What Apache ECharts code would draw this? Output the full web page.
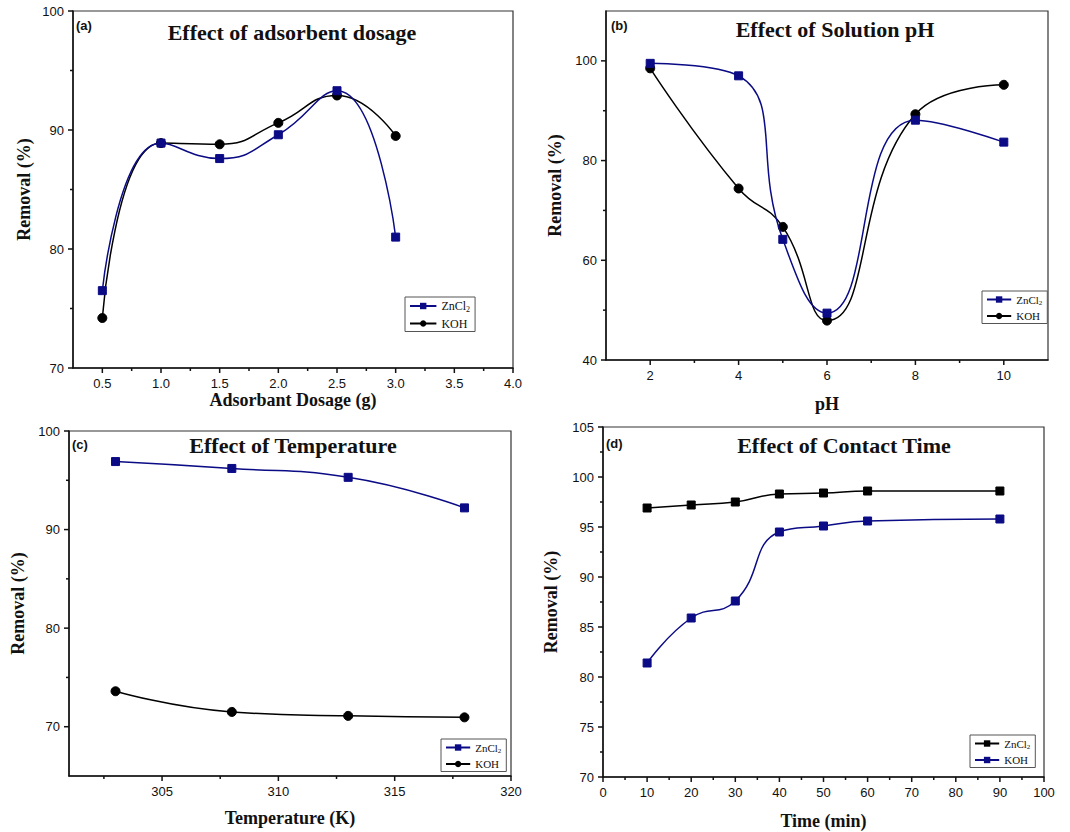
<!DOCTYPE html>
<html>
<head>
<meta charset="utf-8">
<title>Removal efficiency: dosage, pH, temperature and contact time</title>
<script src="https://cdn.jsdelivr.net/npm/echarts@6/dist/echarts.min.js"></script>
<style>
  html, body { margin: 0; padding: 0; background: #fff; }
  #chart { width: 1070px; height: 832px; }
</style>
</head>
<body>
<div id="chart"></div>
<script>
// ---- data -------------------------------------------------------------
// (a) adsorbent dosage (g)
const dosage        = [0.5, 1.0, 1.5, 2.0, 2.5, 3.0];
const dosageZnCl2   = [76.5, 88.9, 87.6, 89.6, 93.3, 81.0];
const dosageKOH     = [74.2, 88.9, 88.8, 90.6, 92.9, 89.5];
const dosageXTicks  = [0.5, 1.0, 1.5, 2.0, 2.5, 3.0, 3.5, 4.0];
const dosageXMinor  = [0.75, 1.25, 1.75, 2.25, 2.75, 3.25, 3.75];
const dosageYTicks  = [70, 80, 90, 100];
const dosageYMinor  = [75, 85, 95];

// (b) solution pH
const pH            = [2, 4, 5, 6, 8, 10];
const pHZnCl2       = [99.5, 97.0, 64.2, 49.4, 88.1, 83.7];
const pHKOH         = [98.5, 74.4, 66.7, 47.9, 89.3, 95.2];
const pHXTicks      = [2, 4, 6, 8, 10];
const pHXMinor      = [3, 5, 7, 9];
const pHYTicks      = [40, 60, 80, 100];
const pHYMinor      = [50, 70, 90];

// (c) temperature (K)
const temperature   = [303, 308, 313, 318];
const tempZnCl2     = [96.9, 96.2, 95.3, 92.2];
const tempKOH       = [73.6, 71.5, 71.1, 70.95];
const tempXTicks    = [305, 310, 315, 320];
const tempXMinor    = [302.5, 307.5, 312.5, 317.5];
const tempYTicks    = [70, 80, 90, 100];
const tempYMinor    = [75, 85, 95];

// (d) contact time (min)
const time          = [10, 20, 30, 40, 50, 60, 90];
const timeZnCl2     = [96.9, 97.2, 97.5, 98.3, 98.4, 98.6, 98.6];
const timeKOH       = [81.4, 85.9, 87.6, 94.5, 95.1, 95.6, 95.8];
const timeXTicks    = [0, 10, 20, 30, 40, 50, 60, 70, 80, 90, 100];
const timeXMinor    = [5, 15, 25, 35, 45, 55, 65, 75, 85, 95];
const timeYTicks    = [70, 75, 80, 85, 90, 95, 100, 105];
const timeYMinor    = [72.5, 77.5, 82.5, 87.5, 92.5, 97.5, 102.5];

// ---- styling ----------------------------------------------------------
const NAVY = '#0b0b86';
const INK = '#111';
const SANS = '"Liberation Sans", Arial, sans-serif';
const SERIF = '"Liberation Serif", "Times New Roman", serif';

const zip = (xs, ys) => xs.map((x, i) => [x, ys[i]]);

const option = {
  animation: false,
  backgroundColor: '#fff',
  grid: [], xAxis: [], yAxis: [], series: [], legend: [], graphic: []
};

// Tick marks (major and minor) placed through the axis scale of a grid.
function tickSeries(xi, yi, data, dir, len) {
  return {
    type: 'custom', xAxisIndex: xi, yAxisIndex: yi, clip: false, silent: true, z: 5,
    data: data,
    renderItem: (params, api) => {
      const p = api.coord([api.value(0), api.value(1)]);
      const shape = dir === 'x'
        ? { x1: p[0], y1: p[1], x2: p[0], y2: p[1] + len }
        : { x1: p[0] - len, y1: p[1], x2: p[0], y2: p[1] };
      return { type: 'line', shape: shape, style: { stroke: INK, lineWidth: 1.5 } };
    }
  };
}

function addPanel(p) {
  const g = option.grid.length;
  option.grid.push({
    left: p.box[0], top: p.box[1], width: p.box[2], height: p.box[3],
    show: true, borderColor: '#333', borderWidth: 1.2, backgroundColor: 'transparent'
  });

  const labelStyle = { color: INK, fontFamily: SANS, fontSize: 13, margin: 9 };
  const nameStyle = { color: INK, fontFamily: SERIF, fontSize: 18, fontWeight: 'bold' };

  const xi = option.xAxis.length;
  option.xAxis.push({
    type: 'value', gridIndex: g, position: 'bottom', min: p.x.min, max: p.x.max,
    name: p.x.name, nameLocation: 'middle', nameGap: p.x.gap, nameTextStyle: nameStyle,
    nameMoveOverlap: false,
    axisLine: { show: true, onZero: false, lineStyle: { color: INK, width: 1.5 } },
    axisTick: { show: false },
    axisLabel: Object.assign({ customValues: p.x.ticks, formatter: p.x.fmt || (v => String(v)) }, labelStyle),
    splitLine: { show: false }
  });

  const yi = option.yAxis.length;
  option.yAxis.push({
    type: 'value', gridIndex: g, position: 'left', min: p.y.min, max: p.y.max,
    name: 'Removal (%)', nameLocation: 'middle', nameGap: p.y.gap, nameRotate: 90, nameTextStyle: nameStyle,
    nameMoveOverlap: false,
    axisLine: { show: true, onZero: false, lineStyle: { color: INK, width: 1.5 } },
    axisTick: { show: false },
    axisLabel: Object.assign({ customValues: p.y.ticks }, labelStyle),
    splitLine: { show: false }
  });

  // ticks: major 5 px, minor 3 px, pointing outward
  option.series.push(tickSeries(xi, yi, p.x.ticks.map(v => [v, p.y.min]), 'x', 5));
  option.series.push(tickSeries(xi, yi, p.x.minor.map(v => [v, p.y.min]), 'x', 3));
  option.series.push(tickSeries(xi, yi, p.y.ticks.map(v => [p.x.min, v]), 'y', 5));
  option.series.push(tickSeries(xi, yi, p.y.minor.map(v => [p.x.min, v]), 'y', 3));

  const legendNames = [];
  p.series.forEach(s => {
    const id = p.tag + ':' + s.label;
    legendNames.push(id);
    option.series.push({
      type: 'line', name: id, xAxisIndex: xi, yAxisIndex: yi,
      data: zip(p.xs, s.ys), smooth: 0.5,
      symbol: s.symbol, symbolSize: s.symbol === 'circle' ? 9 : 8,
      itemStyle: { color: s.color, borderColor: s.color },
      lineStyle: { color: s.color, width: 1.5 },
      z: s.z || 2
    });
  });

  const fs = p.legendFont;
  option.legend.push({
    data: legendNames, orient: 'vertical',
    left: p.legend[0], top: p.legend[1],
    itemWidth: fs * 2.2, itemHeight: 8, itemGap: 4,
    padding: [3, 5, 2, 4],
    borderColor: '#555', borderWidth: 1, backgroundColor: '#fff',
    selectedMode: false,
    formatter: name => {
      const lab = name.split(':')[1];
      return lab === 'ZnCl2' ? '{n|ZnCl}{s|2}' : '{n|' + lab + '}';
    },
    textStyle: {
      color: INK, fontFamily: SERIF, fontSize: fs,
      rich: {
        n: { fontFamily: SERIF, fontSize: fs, color: INK, lineHeight: fs + 3 },
        s: { fontFamily: SERIF, fontSize: Math.round(fs * 0.65), color: INK, lineHeight: fs + 3, verticalAlign: 'bottom', padding: [5, 0, 0, 0] }
      }
    }
  });

  option.graphic.push({
    type: 'text', x: p.title[0], y: p.title[1], silent: true,
    style: { text: p.titleText, fill: INK, font: 'bold 22px ' + SERIF, align: 'center', verticalAlign: 'middle' }
  });
  option.graphic.push({
    type: 'text', x: p.tagPos[0], y: p.tagPos[1], silent: true,
    style: { text: '(' + p.tag + ')', fill: INK, font: 'bold 13px ' + SANS, align: 'left', verticalAlign: 'middle' }
  });
}

addPanel({
  tag: 'a', titleText: 'Effect of adsorbent dosage', title: [292, 32], tagPos: [76, 25],
  box: [73, 11, 440, 357], legend: [405, 297], legendFont: 12,
  xs: dosage,
  x: { min: 0.25, max: 4.0, ticks: dosageXTicks, minor: dosageXMinor, name: 'Adsorbant Dosage (g)', gap: 23, fmt: v => v.toFixed(1) },
  y: { min: 70, max: 100, ticks: dosageYTicks, minor: dosageYMinor, gap: 40 },
  series: [
    { label: 'ZnCl2', ys: dosageZnCl2, color: NAVY, symbol: 'rect', z: 3 },
    { label: 'KOH', ys: dosageKOH, color: '#000', symbol: 'circle' }
  ]
});

addPanel({
  tag: 'b', titleText: 'Effect of Solution pH', title: [835, 29], tagPos: [611, 25],
  box: [606, 11, 442, 349], legend: [982, 291], legendFont: 11,
  xs: pH,
  x: { min: 1, max: 11, ticks: pHXTicks, minor: pHXMinor, name: 'pH', gap: 35 },
  y: { min: 40, max: 110, ticks: pHYTicks, minor: pHYMinor, gap: 42 },
  series: [
    { label: 'ZnCl2', ys: pHZnCl2, color: NAVY, symbol: 'rect', z: 3 },
    { label: 'KOH', ys: pHKOH, color: '#000', symbol: 'circle' }
  ]
});

addPanel({
  tag: 'c', titleText: 'Effect of Temperature', title: [293, 445], tagPos: [72, 444],
  box: [69, 431, 442, 345], legend: [441, 739], legendFont: 11,
  xs: temperature,
  x: { min: 301, max: 320, ticks: tempXTicks, minor: tempXMinor, name: 'Temperature (K)', gap: 33 },
  y: { min: 65, max: 100, ticks: tempYTicks, minor: tempYMinor, gap: 42 },
  series: [
    { label: 'ZnCl2', ys: tempZnCl2, color: NAVY, symbol: 'rect', z: 3 },
    { label: 'KOH', ys: tempKOH, color: '#000', symbol: 'circle' }
  ]
});

addPanel({
  tag: 'd', titleText: 'Effect of Contact Time', title: [844, 445], tagPos: [606, 443],
  box: [603, 427, 441, 350], legend: [970, 735], legendFont: 11,
  xs: time,
  x: { min: 0, max: 100, ticks: timeXTicks, minor: timeXMinor, name: 'Time (min)', gap: 35 },
  y: { min: 70, max: 105, ticks: timeYTicks, minor: timeYMinor, gap: 43 },
  series: [
    { label: 'ZnCl2', ys: timeZnCl2, color: '#000', symbol: 'rect' },
    { label: 'KOH', ys: timeKOH, color: NAVY, symbol: 'rect', z: 3 }
  ]
});

const chart = echarts.init(document.getElementById('chart'), null, { renderer: 'svg' });
chart.setOption(option);
</script>
</body>
</html>
